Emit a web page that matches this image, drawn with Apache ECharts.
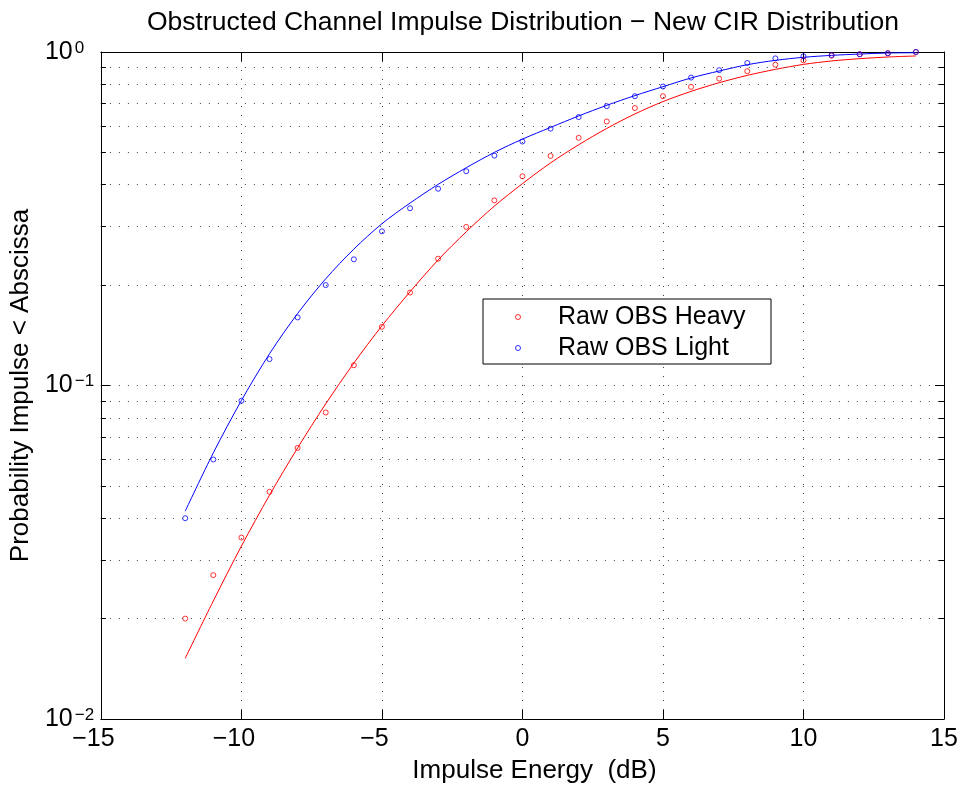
<!DOCTYPE html>
<html><head><meta charset="utf-8">
<script src="https://cdn.jsdelivr.net/npm/echarts@6/dist/echarts.min.js"></script>
<style>html,body{margin:0;padding:0;background:#fff}#c{width:964px;height:790px}</style>
</head><body><div id="c"></div>
<script>
// ---- data ----
const energy = [-12,-11,-10,-9,-8,-7,-6,-5,-4,-3,-2,-1,0,1,2,3,4,5,6,7,8,9,10,11,12,13,14];
const heavyRaw = [0.020,0.027,0.035,0.048,0.065,0.083,0.115,0.150,0.190,0.240,0.299,0.359,0.424,0.488,0.553,0.619,0.679,0.737,0.786,0.832,0.876,0.916,0.944,0.975,0.985,0.992,1.0];
const lightRaw = [0.040,0.060,0.090,0.120,0.160,0.200,0.239,0.290,0.340,0.389,0.439,0.489,0.539,0.589,0.638,0.688,0.737,0.788,0.838,0.882,0.927,0.957,0.971,0.979,0.984,0.991,1.0];
const heavyFit = [0.0152,0.0226,0.0330,0.0469,0.0650,0.0881,0.1167,0.151,0.191,0.238,0.289,0.345,0.403,0.465,0.527,0.590,0.652,0.710,0.762,0.809,0.851,0.887,0.918,0.940,0.955,0.966,0.973];
const lightFit = [0.0420,0.0628,0.0902,0.1245,0.1644,0.2089,0.2564,0.3055,0.3524,0.4009,0.4498,0.500,0.548,0.594,0.643,0.692,0.740,0.787,0.836,0.877,0.916,0.944,0.964,0.977,0.986,0.993,0.995];
const xTicks = [-15,-10,-5,0,5,10,15];
const yMinorTicks = [0.02,0.03,0.04,0.05,0.06,0.07,0.08,0.09,0.2,0.3,0.4,0.5,0.6,0.7,0.8,0.9];
const seriesNames = ['Raw OBS Heavy','Raw OBS Light'];
const titleText = 'Obstructed Channel Impulse Distribution \u2212 New CIR Distribution';
const xName = 'Impulse Energy  (dB)';
const yName = 'Probability Impulse < Abscissa';

// ---- chart ----
const FONT = '"Liberation Sans", Arial, Helvetica, sans-serif';
const RED = '#ff0000', BLUE = '#0000ff';
const X_MIN = xTicks[0], X_MAX = xTicks[xTicks.length-1];
const tickUnits = 5 * (X_MAX - X_MIN) / 846; // 5 px minor tick length in x units
const gridDot = {color:'#404040', width:1, type:[1,8]};

const minorLines = [];
yMinorTicks.forEach(v => {
  minorLines.push({yAxis: v, lineStyle: gridDot});
  minorLines.push([{coord:[X_MIN, v], lineStyle:{color:'#000', width:1, type:'solid'}}, {coord:[X_MIN + tickUnits, v]}]);
  minorLines.push([{coord:[X_MAX - tickUnits, v], lineStyle:{color:'#000', width:1, type:'solid'}}, {coord:[X_MAX, v]}]);
});

const pair = (xs, ys) => xs.map((x, i) => [x, ys[i]]);
const supLabel = v => {
  const e = Math.round(Math.log10(v));
  return '{b|10}{s|' + (e < 0 ? '\u2212' + (-e) : e) + '}';
};

const chart = echarts.init(document.getElementById('c'), null, {renderer:'canvas'});
chart.setOption({
  animation: false,
  backgroundColor: '#fff',
  title: {
    text: titleText, left: 147, top: 4, padding: [5, 5, 5, 0],
    textStyle: {fontFamily: FONT, fontSize: 26.5, fontWeight: 'normal', color: '#000'}
  },
  grid: {left: 98, right: 20, top: 52, bottom: 71, containLabel: false},
  legend: {
    data: seriesNames.map(n => ({name: n, icon: 'circle'})),
    orient: 'vertical', left: 483, top: 299,
    itemWidth: 70, itemHeight: 5, itemGap: 1,
    padding: [3, 13, 1, 30],
    borderColor: '#000', borderWidth: 1, backgroundColor: '#fff',
    selectedMode: false,
    itemStyle: {borderWidth: 1},
    textStyle: {fontFamily: FONT, fontSize: 25, color: '#000', lineHeight: 30, width: 200}
  },
  xAxis: [{
    type: 'value', min: X_MIN, max: X_MAX, interval: 5, position: 'bottom',
    name: xName, nameLocation: 'middle', nameGap: 39,
    nameTextStyle: {fontFamily: FONT, fontSize: 26, color: '#000', padding: [0, 0, 0, 24]},
    axisLine: {show: true, onZero: false, lineStyle: {color: '#000', width: 1}},
    axisTick: {show: true, inside: true, length: 9, lineStyle: {color: '#000'}},
    axisLabel: {
      margin: 8, color: '#000', fontFamily: FONT, fontSize: 25,
      formatter: v => v < 0 ? '{n|\u2212' + (-v) + '}' : '{p|' + v + '}',
      rich: {
        n: {fontFamily: FONT, fontSize: 25, color: '#000', padding: [0, 15, 0, 0]},
        p: {fontFamily: FONT, fontSize: 25, color: '#000'}
      }
    },
    splitLine: {show: true, lineStyle: gridDot}
  }, {
    type: 'value', min: X_MIN, max: X_MAX, interval: 5, position: 'top',
    axisLine: {show: true, onZero: false, lineStyle: {color: '#000', width: 1}},
    axisTick: {show: true, inside: true, length: 9, lineStyle: {color: '#000'}},
    axisLabel: {show: false}, splitLine: {show: false}
  }],
  yAxis: [{
    type: 'log', logBase: 10, min: 0.01, max: 1, position: 'left',
    name: yName, nameLocation: 'middle', nameGap: 55, nameRotate: 90,
    nameTextStyle: {fontFamily: FONT, fontSize: 26, color: '#000'},
    axisLine: {show: true, onZero: false, lineStyle: {color: '#000', width: 1}},
    axisTick: {show: true, inside: true, length: 9, lineStyle: {color: '#000'}},
    axisLabel: {
      margin: 56, align: 'left', color: '#000', fontFamily: FONT, fontSize: 25,
      formatter: supLabel,
      rich: {
        b: {fontFamily: FONT, fontSize: 25, color: '#000', lineHeight: 25, verticalAlign: 'bottom'},
        s: {fontFamily: FONT, fontSize: 17, color: '#000', lineHeight: 10, verticalAlign: 'top', padding: [0, 0, 20, 2]}
      }
    },
    splitLine: {show: true, lineStyle: gridDot}
  }, {
    type: 'log', logBase: 10, min: 0.01, max: 1, position: 'right',
    axisLine: {show: true, onZero: false, lineStyle: {color: '#000', width: 1}},
    axisTick: {show: true, inside: true, length: 9, lineStyle: {color: '#000'}},
    axisLabel: {show: false}, splitLine: {show: false}
  }],
  series: [
    {
      type: 'line', name: 'heavyFit', data: pair(energy, heavyFit), smooth: 0.3,
      showSymbol: false, lineStyle: {color: RED, width: 1}, itemStyle: {color: RED},
      silent: true, z: 2,
      markLine: {silent: true, symbol: 'none', label: {show: false}, animation: false,
        emphasis: {disabled: true}, data: minorLines}
    },
    {
      type: 'line', name: 'lightFit', data: pair(energy, lightFit), smooth: 0.3,
      showSymbol: false, lineStyle: {color: BLUE, width: 1}, itemStyle: {color: BLUE},
      silent: true, z: 2
    },
    {
      type: 'scatter', name: seriesNames[0], data: pair(energy, heavyRaw),
      symbol: 'circle', symbolSize: 5,
      itemStyle: {color: 'none', borderColor: RED, borderWidth: 1}, z: 3
    },
    {
      type: 'scatter', name: seriesNames[1], data: pair(energy, lightRaw),
      symbol: 'circle', symbolSize: 5,
      itemStyle: {color: 'none', borderColor: BLUE, borderWidth: 1}, z: 3
    }
  ]
});
</script>
</body></html>
